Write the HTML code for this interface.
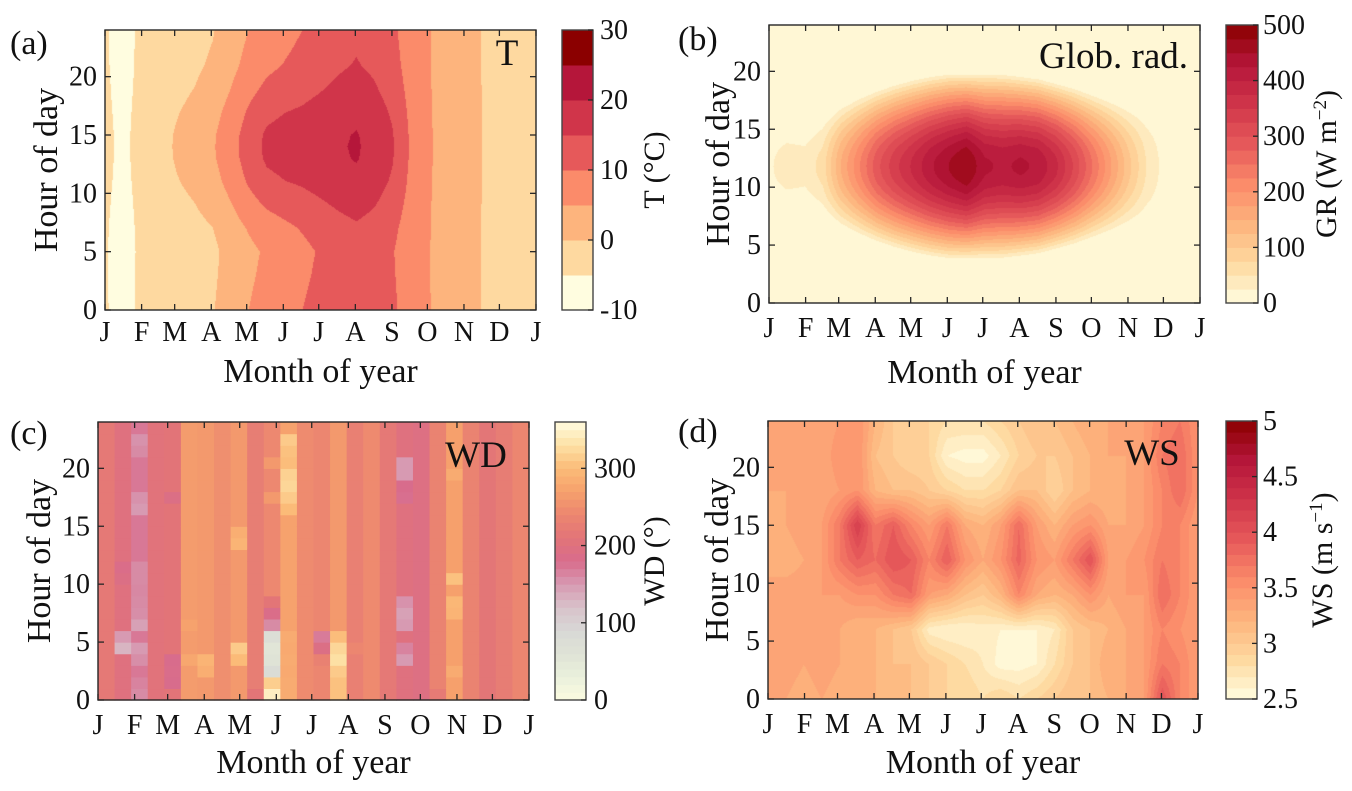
<!DOCTYPE html>
<html><head><meta charset="utf-8">
<style>
body{margin:0;width:1352px;height:791px;background:#fff;position:relative;overflow:hidden;font-family:"Liberation Serif",serif}
canvas{position:absolute}
svg{position:absolute;left:0;top:0}
svg text{font-family:"Liberation Serif",serif;fill:#111}
</style></head>
<body>
<canvas id="cA" style="left:105px;top:30px" width="431" height="280"></canvas>
<canvas id="cB" style="left:769px;top:25px" width="431" height="278"></canvas>
<canvas id="cD" style="left:768px;top:421px" width="430" height="278"></canvas>
<svg id="ov" width="1352" height="791"></svg>
<script>
// ---------- shared data ----------
const monthLabels=['J','F','M','A','M','J','J','A','S','O','N','D','J'];
const monthStartDays=[0,31,59,90,120,151,181,212,243,273,304,334,365];
const hourTicks=[0,5,10,15,20];
// ---------- panel (a) temperature: half-month samples ----------
const tNight=[-4.5,-7,-4,-3,-2.5,-1.5,-0.3,2.5,5,7,8.5,10,11.5,13,14,13,11,7.5,5.3,3,1.5,-0.1,-2,-3,-3.5];
const tPeak=[-4,-6,-3.5,-1.5,0.5,2,4.5,8,12.5,16,17,17.5,18.5,19.5,20.5,18.5,15.5,9.5,5.5,3.5,1.8,0,-1.5,-2.5,-3];
const tShapeHours=[0,3,5,7,9,11,13,14,15,17,19,21,24];
const tShape=[0,-0.1,-0.15,0.05,0.4,0.75,0.97,1,0.97,0.75,0.45,0.2,0];
const tTicks=[-10,0,10,20,30];
// ---------- panel (b) global radiation ----------
const grPeak=[20,40,35,60,150,220,290,340,380,420,450,475,430,420,430,420,380,320,250,180,110,50,15,5,10];
const grHalfDay=[3.5,3.5,3.5,4.5,5.5,6.2,6.8,7.3,7.7,8.0,8.2,8.2,8.2,8.2,8.0,7.8,7.4,7.0,6.5,6.0,5.5,5,4.5,4,3.5];
const grNoon=11.8;
const grTicks=[0,100,200,300,400,500];
// ---------- panel (c) wind direction: 26 columns x 24 hours ----------
const wdBase=[218,200,172,206,210,265,262,250,262,226,242,272,246,240,262,230,245,218,200,194,235,270,235,214,225,240];
const wdCells=[[1,4,130],[1,5,150],[1,10,190],[1,11,185],[2,0,160],[2,1,165],[2,3,158],[2,4,150],[2,6,145],[2,7,158],[2,8,160],[2,9,162],[2,10,160],[2,11,160],[2,16,150],[2,17,155],[2,21,160],[2,22,155],[4,1,180],[4,2,182],[4,3,180],[4,17,190],[5,3,278],[5,6,272],[6,2,285],[6,3,292],[8,3,300],[8,4,312],[8,13,292],[8,14,286],[9,0,212],[10,0,345],[10,1,315],[10,2,80],[10,3,60],[10,4,55],[10,5,75],[10,6,160],[10,7,185],[10,8,212],[10,17,262],[10,20,262],[11,0,282],[11,1,282],[11,2,280],[11,3,282],[11,4,280],[11,5,282],[11,16,300],[11,17,312],[11,18,322],[11,19,318],[11,20,302],[11,21,305],[11,22,312],[13,3,232],[13,4,190],[13,5,170],[14,0,305],[14,1,305],[14,2,312],[14,3,330],[14,4,322],[14,5,302],[15,4,240],[18,3,150],[18,4,165],[18,6,150],[18,7,145],[18,8,155],[18,17,178],[18,18,180],[18,19,150],[18,20,150],[20,0,222],[21,2,282],[21,7,292],[21,8,296],[21,10,305],[21,19,282]];
const wdTicks=[0,100,200,300];
// ---------- panel (d) wind speed: rows every 3 h, half-month columns ----------
const wsHours=[0,3,6,9,12,15,18,21,24];
const wsGrid=[
[3.3,3.3,3.2,3.3,3.2,3.3,3.2,3.1,3.1,3.0,2.9,2.9,2.8,2.9,2.8,2.9,3.0,3.1,3.1,3.2,3.3,3.4,4.0,3.6,3.4],
[3.3,3.4,3.3,3.4,3.3,3.3,3.2,3.1,3.1,3.0,2.9,2.8,2.7,2.55,2.55,2.6,2.8,3.0,3.1,3.3,3.3,3.4,3.7,3.6,3.4],
[3.4,3.3,3.4,3.3,3.3,3.2,3.2,3.1,3.0,2.65,2.6,2.6,2.65,2.6,2.6,2.6,2.7,3.0,3.1,3.2,3.3,3.4,3.6,3.5,3.4],
[3.3,3.4,3.4,3.4,3.4,3.5,3.5,3.7,3.8,3.4,3.3,3.1,3.0,3.2,3.6,3.3,3.2,3.3,3.5,3.3,3.4,3.4,3.8,3.6,3.4],
[3.3,3.2,3.3,3.4,3.7,3.9,3.8,4.0,3.9,3.6,3.9,3.5,3.3,3.5,3.85,3.5,3.4,3.7,4.0,3.4,3.4,3.5,3.7,3.6,3.4],
[3.2,3.3,3.4,3.4,3.7,4.2,3.7,3.9,3.6,3.4,3.7,3.3,3.2,3.4,3.8,3.4,3.2,3.4,3.5,3.3,3.3,3.4,3.6,3.6,3.4],
[3.3,3.3,3.4,3.3,3.4,3.5,3.2,3.1,3.1,3.0,2.9,2.8,2.8,2.9,3.1,3.1,2.9,3.1,3.2,3.2,3.3,3.4,3.6,3.8,3.5],
[3.3,3.3,3.4,3.3,3.5,3.5,3.1,3.0,2.9,2.9,2.6,2.55,2.55,2.7,2.9,3.0,3.0,3.1,3.2,3.3,3.3,3.4,3.7,3.8,3.5],
[3.3,3.3,3.3,3.3,3.4,3.5,3.2,3.0,3.0,2.9,2.8,2.8,2.8,2.9,3.0,3.1,3.1,3.2,3.3,3.3,3.3,3.4,3.6,3.7,3.5]];
const wsTicks=[2.5,3,3.5,4,4.5,5];

// ---------- colours ----------
const warmStops=['#fffde0','#fed9a0','#fdb47d','#fb8b6a','#e6595a','#d0354a','#b5163a','#8b0000'];
const wdStops=[[0,'#fbfbe0'],[30,'#eaf0dc'],[60,'#dfe3d6'],[90,'#d8d8d6'],[120,'#d8c2ca'],[150,'#d79ab2'],[180,'#d86c8c'],[210,'#e27478'],[240,'#ec8670'],[270,'#f6a06c'],[300,'#fbbb78'],[330,'#fde0a4'],[360,'#fffbe0']];
function rgb(h){return [parseInt(h.substr(1,2),16),parseInt(h.substr(3,2),16),parseInt(h.substr(5,2),16)];}
function mix(a,b,t){const A=rgb(a),B=rgb(b);return A.map((v,i)=>Math.round(v+(B[i]-v)*t));}
function warm(t){t=Math.max(0,Math.min(1,t));const s=t*7,i=Math.min(6,Math.floor(s));return mix(warmStops[i],warmStops[i+1],s-i);}
function wdColor(v){for(let i=0;i<wdStops.length-1;i++){if(v<=wdStops[i+1][0]){const t=(v-wdStops[i][0])/(wdStops[i+1][0]-wdStops[i][0]);return mix(wdStops[i][1],wdStops[i+1][1],t);}}return rgb('#fffbe0');}
function css(c){return 'rgb('+c.join(',')+')';}

// ---------- helpers ----------
function interpHalf(arr,m){const s=Math.max(0,Math.min(arr.length-1,m*2));const i=Math.min(arr.length-2,Math.floor(s));return arr[i]+(arr[i+1]-arr[i])*(s-i);}
function interpXY(xs,ys,x){for(let i=0;i<xs.length-1;i++){if(x<=xs[i+1]){return ys[i]+(ys[i+1]-ys[i])*(x-xs[i])/(xs[i+1]-xs[i]);}}return ys[ys.length-1];}
const NS='http://www.w3.org/2000/svg';
const ov=document.getElementById('ov');
function mk(tag,attrs,parent){const e=document.createElementNS(NS,tag);for(const k in attrs)e.setAttribute(k,attrs[k]);(parent||ov).appendChild(e);return e;}

const panels={
 a:{x:105,y:30,w:431,h:280,cbx:562,cbw:31,lab:'(a)',labX:10,labY:54,title:'T',titleX:507,titleY:65,anchor:'middle',monthY:341,xlabY:382,ylabX:57,cbLabX:664,cbTickX:600},
 b:{x:769,y:25,w:431,h:278,cbx:1226,cbw:32,lab:'(b)',labX:678,labY:50,title:'Glob. rad.',titleX:1188,titleY:68,anchor:'end',monthY:337,xlabY:383,ylabX:729,cbLabX:1336,cbTickX:1263},
 c:{x:98,y:422,w:431,h:278,cbx:555,cbw:31,lab:'(c)',labX:10,labY:444,title:'WD',titleX:476,titleY:467,anchor:'middle',monthY:734,xlabY:773,ylabX:50,cbLabX:664,cbTickX:594},
 d:{x:768,y:421,w:430,h:278,cbx:1226,cbw:31,lab:'(d)',labX:678,labY:442,title:'WS',titleX:1152,titleY:465,anchor:'middle',monthY:733,xlabY:773,ylabX:728,cbLabX:1332,cbTickX:1263}
};
function py(p,h){return p.y+p.h-h/24*p.h;}
function px(p,day){return p.x+day/365*p.w;}

function drawField(id,p,fn,bandOf,colorOfBand){
 const cv=document.getElementById(id),ctx=cv.getContext('2d');
 const img=ctx.createImageData(cv.width,cv.height);
 for(let j=0;j<cv.height;j++){const h=(1-(j+0.5)/cv.height)*24;
  for(let i=0;i<cv.width;i++){const m=(i+0.5)/cv.width*12;
   const c=colorOfBand(bandOf(fn(m,h)));const k=(j*cv.width+i)*4;
   img.data[k]=c[0];img.data[k+1]=c[1];img.data[k+2]=c[2];img.data[k+3]=255;}}
 ctx.putImageData(img,0,0);
}
drawField('cA',panels.a,(m,h)=>{const n=interpHalf(tNight,m),pk=interpHalf(tPeak,m);return n+(pk-n)*interpXY(tShapeHours,tShape,h);},
 v=>Math.max(0,Math.min(7,Math.floor((v+10)/5))),b=>rgb(warmStops[b]));
drawField('cB',panels.b,(m,h)=>{const pk=interpHalf(grPeak,m),H=interpHalf(grHalfDay,m);const d=Math.abs(h-grNoon)/H;return d>=1?0:pk*Math.cos(Math.PI/2*d);},
 v=>Math.max(0,Math.min(19,Math.floor(v/25))),b=>warm((b+0.5)/20));
drawField('cD',panels.d,(m,h)=>{const s=Math.min(23.999,m*2),i=Math.floor(s),t=s-i;
 let r=0;while(r<wsHours.length-2&&h>wsHours[r+1])r++;const u=(h-wsHours[r])/(wsHours[r+1]-wsHours[r]);
 const a=wsGrid[r][i]*(1-t)+wsGrid[r][i+1]*t,b=wsGrid[r+1][i]*(1-t)+wsGrid[r+1][i+1]*t;return a*(1-u)+b*u;},
 v=>Math.max(0,Math.min(24,Math.floor((v-2.5)/0.1+1e-6))),b=>warm((b+0.5)/25));

(function(){const p=panels.c;const g=mk('g',{});
 
 
 const cw=p.w/wdBase.length,rh=p.h/24;
 for(let c=0;c<wdBase.length;c++){for(let r=0;r<24;r++){
  let v=wdBase[c];for(const o of wdCells){if(o[0]===c&&o[1]===r)v=o[2];}
  const rc=mk('rect',{x:(p.x+c*cw).toFixed(2),y:(py(p,r+1)).toFixed(2),width:(cw+0.6).toFixed(2),height:(rh+0.6).toFixed(2),fill:css(wdColor(v))},g);
  
  
 }}})();

function axes(key){
 const p=panels[key];const g=mk('g',{});
 
 
 const fr=mk('rect',{x:p.x,y:p.y,width:p.w,height:p.h,fill:'none',stroke:'#262626','stroke-width':1.4},g);
 
 
 monthStartDays.forEach((d,i)=>{const x=px(p,d);
  mk('line',{x1:x,x2:x,y1:p.y+p.h,y2:p.y+p.h-6,stroke:'#262626','stroke-width':1.3},g);
  mk('line',{x1:x,x2:x,y1:p.y,y2:p.y+6,stroke:'#262626','stroke-width':1.3},g);
  const t=mk('text',{x:x,y:p.monthY,'text-anchor':'middle','font-size':28},g);t.textContent=monthLabels[i];
  
  
 });
 hourTicks.forEach(h=>{const y=py(p,h);
  mk('line',{x1:p.x,x2:p.x+6,y1:y,y2:y,stroke:'#262626','stroke-width':1.3},g);
  mk('line',{x1:p.x+p.w,x2:p.x+p.w-6,y1:y,y2:y,stroke:'#262626','stroke-width':1.3},g);
  const t=mk('text',{x:p.x-8,y:y+9,'text-anchor':'end','font-size':28},g);t.textContent=h;
  
  
 });
 const xl=mk('text',{x:p.x+p.w/2,y:p.xlabY,'text-anchor':'middle','font-size':34},g);xl.textContent='Month of year';
 
 
 const yl=mk('text',{x:0,y:0,'text-anchor':'middle','font-size':34,transform:'translate('+p.ylabX+','+(p.y+p.h/2)+') rotate(-90)'},g);yl.textContent='Hour of day';
 
 
 const pl=mk('text',{x:p.labX,y:p.labY,'font-size':34},g);pl.textContent=p.lab;
 
 
 const tt=mk('text',{x:p.titleX,y:p.titleY,'text-anchor':p.anchor,'font-size':37},g);tt.textContent=p.title;
 
 
}
['a','b','c','d'].forEach(axes);

function colorbar(key,vmin,vmax,nb,colorFn,ticks,fmt,labelParts){
 const p=panels[key];const g=mk('g',{});
 
 
 const bh=p.h/nb;
 for(let i=0;i<nb;i++){const r=mk('rect',{x:p.cbx,y:(p.y+p.h-(i+1)*bh).toFixed(2),width:p.cbw,height:(bh+0.5).toFixed(2),fill:css(colorFn(i))},g);
  
  }
 mk('rect',{x:p.cbx,y:p.y,width:p.cbw,height:p.h,fill:'none',stroke:'#444','stroke-width':1.4},g);
 ticks.forEach(v=>{const y=p.y+p.h-(v-vmin)/(vmax-vmin)*p.h;
  mk('line',{x1:p.cbx+p.cbw,x2:p.cbx+p.cbw-5,y1:y,y2:y,stroke:'#262626','stroke-width':1.3},g);
  const t=mk('text',{x:p.cbTickX,y:y+9,'font-size':28},g);t.textContent=fmt(v);
  
  });
 const lab=mk('text',{x:0,y:0,'text-anchor':'middle','font-size':30,transform:'translate('+p.cbLabX+','+(p.y+p.h/2)+') rotate(-90)'},g);
 
 
 labelParts.forEach(pt=>{const s=mk('tspan',pt[1]?{'baseline-shift':'super','font-size':19}:{},lab);s.textContent=pt[0];});
}
colorbar('a',-10,30,8,i=>rgb(warmStops[i]),tTicks,v=>v,[['T (°C)',0]]);
colorbar('b',0,500,20,i=>warm((i+0.5)/20),grTicks,v=>v,[['GR (W m',0],['−2',1],[')',0]]);
colorbar('c',0,360,36,i=>wdColor((i+0.5)*10),wdTicks,v=>v,[['WD (°)',0]]);
colorbar('d',2.5,5,25,i=>warm((i+0.5)/25),wsTicks,v=>v,[['WS (m s',0],['−1',1],[')',0]]);
</script>
</body></html>
